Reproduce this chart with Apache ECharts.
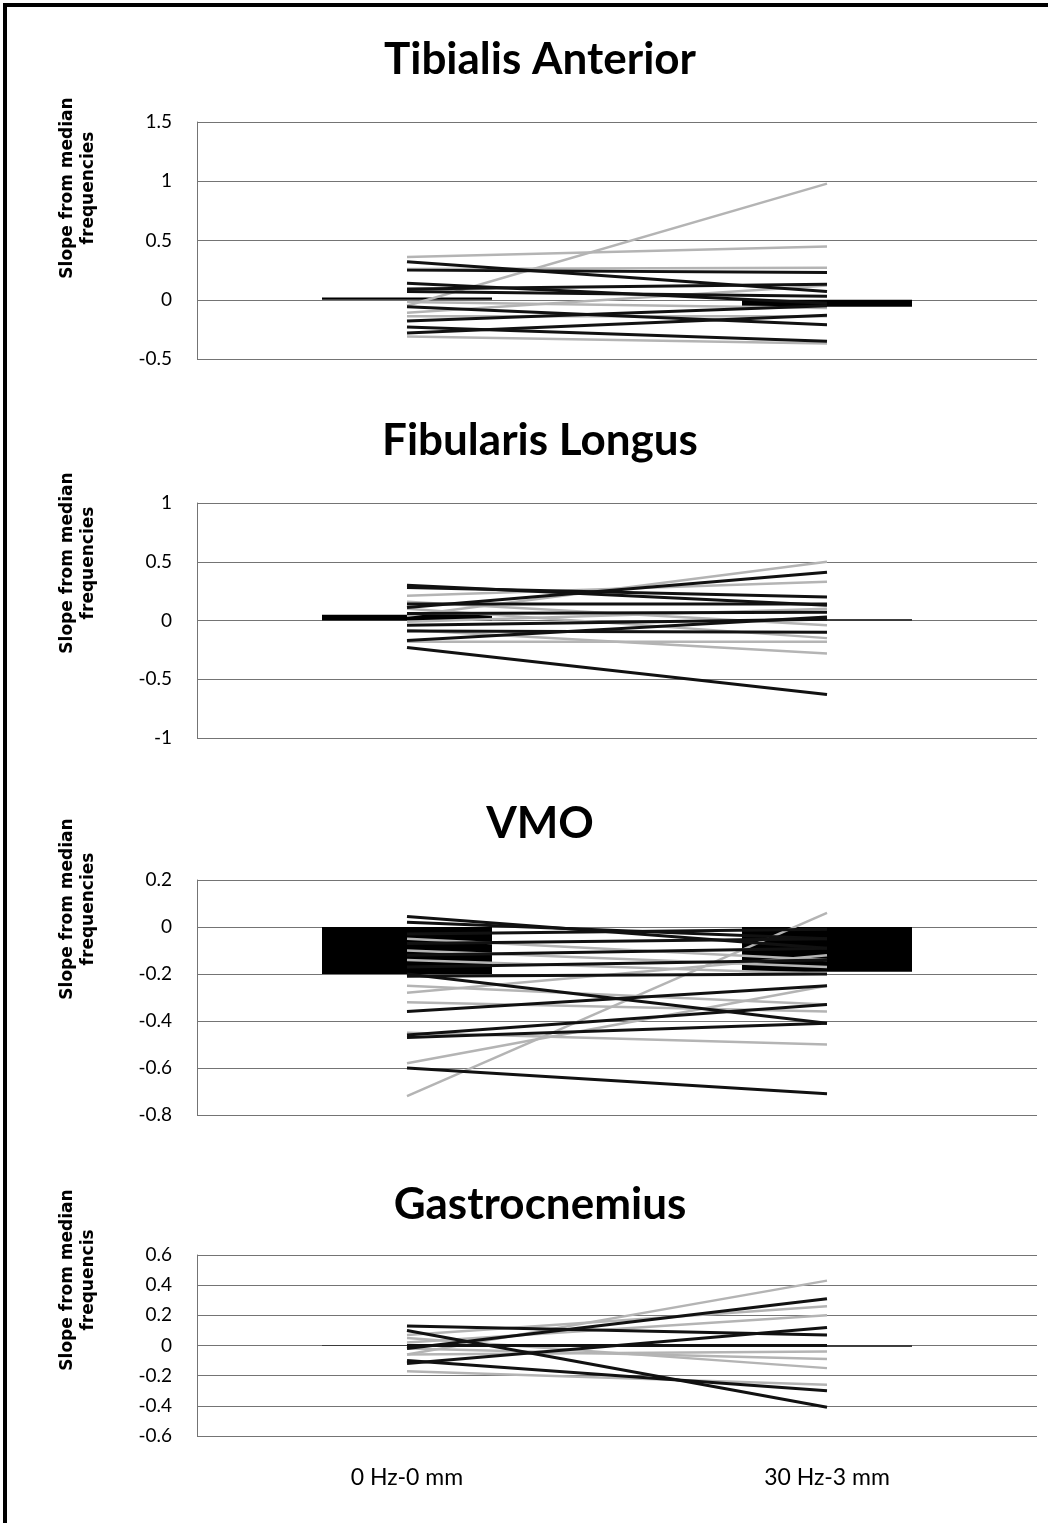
<!DOCTYPE html>
<html>
<head>
<meta charset="utf-8">
<script src="https://cdn.jsdelivr.net/npm/echarts@6/dist/echarts.min.js"></script>
<style>
html, body { margin: 0; padding: 0; background: #fff; }
#chart { width: 1048px; height: 1523px; }
</style>
</head>
<body>
<div id="chart"></div>
<script>
// categories on the x axis (shared by all four panels)
var categories = ['0 Hz-0 mm', '30 Hz-3 mm'];
var panelTitles = ['Tibialis Anterior', 'Fibularis Longus', 'VMO', 'Gastrocnemius'];
var axisTitles = [
  'Slope from median\nfrequencies',
  'Slope from median\nfrequencies',
  'Slope from median\nfrequencies',
  'Slope from median\nfrequencis'
];

// group means (the black bars)
var taMean = [0.02, -0.06];
var flMean = [0.05, 0.01];
var vmoMean = [-0.20, -0.19];
var gaMean = [0.003, -0.008];

// individual subjects: [0 Hz-0 mm, 30 Hz-3 mm], split by how they print (black / grey)
var taBlack = [[0.32, 0.07], [0.25, 0.23], [0.14, -0.03], [0.09, 0.13], [0.07, 0.03],
  [-0.06, -0.21], [-0.18, -0.05], [-0.23, -0.35], [-0.28, -0.13]];
var taGray = [[0.36, 0.45], [-0.05, 0.98], [0.26, 0.27], [-0.02, -0.07], [-0.11, 0.12],
  [-0.14, -0.14], [-0.31, -0.37]];

var flBlack = [[0.30, 0.13], [0.28, 0.20], [0.11, 0.41], [0.14, 0.14], [0.06, 0.07],
  [-0.04, 0.01], [-0.09, -0.10], [-0.17, 0.03], [-0.23, -0.63]];
var flGray = [[0.04, 0.50], [0.21, 0.33], [0.16, -0.04], [-0.01, 0.10], [-0.08, -0.28],
  [-0.18, -0.18], [0.10, -0.15]];

var vmoBlack = [[0.045, -0.09], [0.02, -0.05], [-0.03, -0.01], [-0.07, -0.05], [-0.12, -0.09],
  [-0.17, -0.14], [-0.20, -0.41], [-0.21, -0.20], [-0.36, -0.25], [-0.46, -0.33],
  [-0.47, -0.41], [-0.60, -0.71]];
var vmoGray = [[-0.72, 0.06], [-0.05, -0.14], [-0.10, -0.17], [-0.14, -0.20], [-0.25, -0.33],
  [-0.32, -0.36], [-0.45, -0.50], [-0.58, -0.25], [-0.28, -0.12]];

var gaBlack = [[0.13, 0.07], [0.10, -0.41], [-0.02, 0.31], [-0.10, -0.30], [-0.12, 0.12],
  [0.0, 0.0]];
var gaGray = [[-0.06, 0.43], [0.07, 0.26], [0.02, 0.20], [-0.02, -0.09], [-0.06, -0.04],
  [-0.17, -0.26], [0.05, -0.15]];

// y axis scales: [min, max, interval]
var taScale = [-0.5, 1.5, 0.5];
var flScale = [-1, 1, 0.5];
var vmoScale = [-0.8, 0.2, 0.2];
var gaScale = [-0.6, 0.6, 0.2];

var panels = [
  { mean: taMean, black: taBlack, gray: taGray, scale: taScale, top: 122, height: 237, titleY: 38 },
  { mean: flMean, black: flBlack, gray: flGray, scale: flScale, top: 503, height: 235, titleY: 419 },
  { mean: vmoMean, black: vmoBlack, gray: vmoGray, scale: vmoScale, top: 880, height: 235, titleY: 802 },
  { mean: gaMean, black: gaBlack, gray: gaGray, scale: gaScale, top: 1255, height: 181, titleY: 1183 }
];
var nameCenters = [188, 563, 909, 1280];

var font = 'Lato, "Open Sans", sans-serif';
var gridColor = '#747474';

var chart = echarts.init(document.getElementById('chart'));

var grids = [], xAxes = [], yAxes = [], titles = [], series = [], graphics = [];

panels.forEach(function (p, i) {
  grids.push({ left: 197, width: 840, top: p.top, height: p.height });
  titles.push({
    text: panelTitles[i], left: 540, top: p.titleY, textAlign: 'center', padding: 0,
    textStyle: { fontFamily: font, fontWeight: 'bold', fontSize: 44, color: '#000' }
  });
  xAxes.push({
    type: 'category', gridIndex: i, data: categories,
    axisLine: { show: false }, axisTick: { show: false },
    axisLabel: { show: i === panels.length - 1, fontFamily: font, fontSize: 23, color: '#000', margin: 30 }
  });
  yAxes.push({
    type: 'value', gridIndex: i, min: p.scale[0], max: p.scale[1], interval: p.scale[2],
    axisLine: { show: true, lineStyle: { color: gridColor, width: 1 } },
    axisTick: { show: false },
    axisLabel: { fontFamily: font, fontSize: 19, color: '#000', margin: 25 },
    splitLine: { lineStyle: { color: gridColor, width: 1.2 } }
  });
  series.push({
    type: 'bar', xAxisIndex: i, yAxisIndex: i, data: p.mean, barWidth: 170,
    itemStyle: { color: '#000' }, z: 1, silent: true
  });
  p.gray.forEach(function (d) {
    series.push({
      type: 'line', xAxisIndex: i, yAxisIndex: i, data: d, symbol: 'none', z: 2, silent: true,
      lineStyle: { color: '#b4b4b4', width: 2.5 }
    });
  });
  p.black.forEach(function (d) {
    series.push({
      type: 'line', xAxisIndex: i, yAxisIndex: i, data: d, symbol: 'none', z: 3, silent: true,
      lineStyle: { color: '#111', width: 3 }
    });
  });
  graphics.push({
    type: 'text', x: 78, y: nameCenters[i], rotation: Math.PI / 2,
    style: {
      text: axisTitles[i], fontFamily: '"DejaVu Sans", Verdana, sans-serif', fontWeight: 'bold',
      fontSize: 17, lineHeight: 21, fill: '#000', textAlign: 'center', textVerticalAlign: 'middle'
    }
  });
});

// outer frame of the figure
graphics.push({
  type: 'rect', shape: { x: 5, y: 5, width: 1100, height: 1600 },
  style: { fill: 'none', stroke: '#000', lineWidth: 4 }, silent: true
});

chart.setOption({
  animation: false,
  backgroundColor: '#fff',
  title: titles,
  grid: grids,
  xAxis: xAxes,
  yAxis: yAxes,
  series: series,
  graphic: graphics
});
</script>
</body>
</html>
